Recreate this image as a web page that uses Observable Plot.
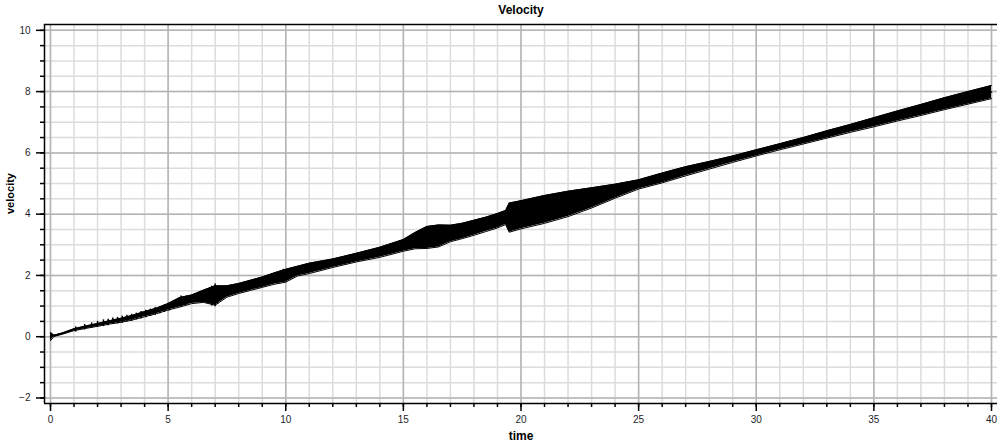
<!DOCTYPE html>
<html>
<head>
<meta charset="utf-8">
<script src="https://cdn.jsdelivr.net/npm/d3@7"></script>
<script src="https://cdn.jsdelivr.net/npm/@observablehq/plot@0.6"></script>
<style>
  html, body { margin: 0; padding: 0; background: #fff; }
  svg { display: block; }
</style>
</head>
<body>
<div id="chart"></div>
<script>
// Envelope of the oscillating velocity signal
const time = [0, 0.15, 0.5, 1, 1.5, 2, 2.5, 3, 3.5, 4, 4.5, 5, 5.5, 6, 6.5, 7, 7.5, 8, 8.5, 9, 9.5, 10, 10.5, 11, 12, 13, 14, 15, 15.5, 16, 16.5, 17, 17.5, 18, 18.5, 19, 19.35, 19.5, 20, 21, 22, 23, 24, 25, 26, 27, 28, 29, 30, 31, 32, 33, 34, 35, 36, 37, 38, 39, 40];
const velLow = [-0.13, 0.01, 0.08, 0.2, 0.27, 0.34, 0.41, 0.47, 0.55, 0.65, 0.75, 0.87, 0.97, 1.08, 1.12, 1.03, 1.29, 1.41, 1.51, 1.61, 1.71, 1.78, 1.98, 2.06, 2.26, 2.44, 2.59, 2.79, 2.87, 2.88, 2.93, 3.10, 3.20, 3.31, 3.43, 3.55, 3.66, 3.41, 3.52, 3.70, 3.92, 4.20, 4.52, 4.82, 5.02, 5.25, 5.47, 5.69, 5.90, 6.10, 6.29, 6.48, 6.67, 6.85, 7.04, 7.22, 7.41, 7.59, 7.77];
const velHigh = [0.14, 0.05, 0.12, 0.26, 0.35, 0.43, 0.52, 0.6, 0.7, 0.82, 0.93, 1.08, 1.28, 1.36, 1.52, 1.66, 1.66, 1.74, 1.84, 1.95, 2.08, 2.20, 2.30, 2.40, 2.54, 2.72, 2.92, 3.17, 3.40, 3.60, 3.65, 3.64, 3.70, 3.80, 3.90, 4.02, 4.12, 4.36, 4.44, 4.61, 4.75, 4.86, 4.98, 5.12, 5.34, 5.55, 5.72, 5.90, 6.10, 6.30, 6.50, 6.72, 6.93, 7.15, 7.37, 7.58, 7.80, 8.00, 8.20];

// Isolated spikes of the oscillation (early part)
const spikeTime = [1.07, 1.45, 1.75, 2.0, 2.25, 2.45, 2.65, 2.85, 3.05, 3.25, 3.45, 3.65, 3.85, 4.05, 4.25, 4.45, 4.65, 4.85, 5.05, 5.55, 5.75, 6.85, 7.0, 7.1, 9.9];
const spikeLow = [0.15, 0.22, 0.27, 0.30, 0.33, 0.36, 0.40, 0.42, 0.44, 0.48, 0.50, 0.55, 0.58, 0.62, 0.66, 0.70, 0.75, 0.80, 0.84, 0.95, 1.02, 1.00, 0.98, 1.05, 1.78];
const spikeHigh = [0.32, 0.40, 0.45, 0.50, 0.55, 0.57, 0.61, 0.63, 0.67, 0.70, 0.73, 0.77, 0.82, 0.86, 0.90, 0.95, 0.98, 1.04, 1.10, 1.33, 1.32, 1.65, 1.72, 1.62, 2.20];

const xMajor = [0, 5, 10, 15, 20, 25, 30, 35, 40];
const xMinor = d3.range(0, 41, 1);
const yMajor = [-2, 0, 2, 4, 6, 8, 10];
const yMinor = d3.range(-2, 10.01, 0.5);
const xDomain = [-0.255, 40.255];
const yDomain = [-2.18, 10.19];

const data = time.map((t, i) => ({t, lo: velLow[i], hi: velHigh[i], mid: (velLow[i] + velHigh[i]) / 2}));
const spikes = spikeTime.map((t, i) => ({t, lo: spikeLow[i], hi: spikeHigh[i]}));

const font = "'Liberation Sans', Arial, sans-serif";

const chart = Plot.plot({
  width: 997,
  height: 443,
  marginLeft: 44,
  marginRight: 0,
  marginTop: 24,
  marginBottom: 40,
  style: {fontFamily: font, fontSize: "10px", color: "#1e1e2e", background: "#fff"},
  x: {domain: xDomain, axis: null},
  y: {domain: yDomain, axis: null},
  marks: [
    // grid
    Plot.gridX(xMinor, {stroke: "#dcdcdc", strokeOpacity: 1, strokeWidth: 1.5}),
    Plot.gridY(yMinor, {stroke: "#dcdcdc", strokeOpacity: 1, strokeWidth: 1.5}),
    Plot.gridX(xMajor, {stroke: "#b4b4b4", strokeOpacity: 1, strokeWidth: 1.5}),
    Plot.gridY(yMajor, {stroke: "#b4b4b4", strokeOpacity: 1, strokeWidth: 1.5}),
    // frame lines
    Plot.ruleX([xDomain[0]], {stroke: "#000", strokeWidth: 1.5}),
    Plot.ruleY([yDomain[1]], {stroke: "#000", strokeWidth: 1.5}),
    Plot.ruleY([yDomain[0]], {stroke: "#000", strokeWidth: 1.5}),
    // axes
    Plot.axisX(xMinor, {anchor: "bottom", tickSize: 4, text: null, stroke: "#000", strokeWidth: 1.5, label: null}),
    Plot.axisX(xMajor, {anchor: "bottom", tickSize: 8, tickPadding: 4, stroke: "#000", strokeWidth: 1.5, label: null, fill: "#1e1e2e"}),
    Plot.axisY(yMinor, {anchor: "left", tickSize: 4, text: null, stroke: "#000", strokeWidth: 1.5, label: null}),
    Plot.axisY(yMajor, {anchor: "left", tickSize: 8, tickPadding: 6, stroke: "#000", strokeWidth: 1.5, label: null, fill: "#1e1e2e"}),
    // data band
    Plot.areaY(data, {x: "t", y1: "lo", y2: "hi", fill: "#000"}),
    Plot.line(data, {x: "t", y: "lo", stroke: "#000", strokeWidth: 1}),
    Plot.line(data, {x: "t", y: "hi", stroke: "#000", strokeWidth: 1}),
    Plot.line(data, {x: "t", y: "mid", stroke: "#000", strokeWidth: 1.5}),
    Plot.ruleX(spikes, {x: "t", y1: "lo", y2: "hi", stroke: "#000", strokeWidth: 1.5}),
    // titles
    Plot.text(["Velocity"], {frameAnchor: "top", lineAnchor: "middle", dy: -14, fontWeight: "bold", fontSize: 12, fill: "#000"}),
    Plot.text(["time"], {frameAnchor: "bottom", lineAnchor: "middle", dy: 33, fontWeight: "bold", fontSize: 12, fill: "#000"}),
    Plot.text(["velocity"], {frameAnchor: "left", dx: -34, rotate: -90, fontWeight: "bold", fontSize: 11, fill: "#000"})
  ]
});
document.getElementById("chart").appendChild(chart);
</script>
</body>
</html>
